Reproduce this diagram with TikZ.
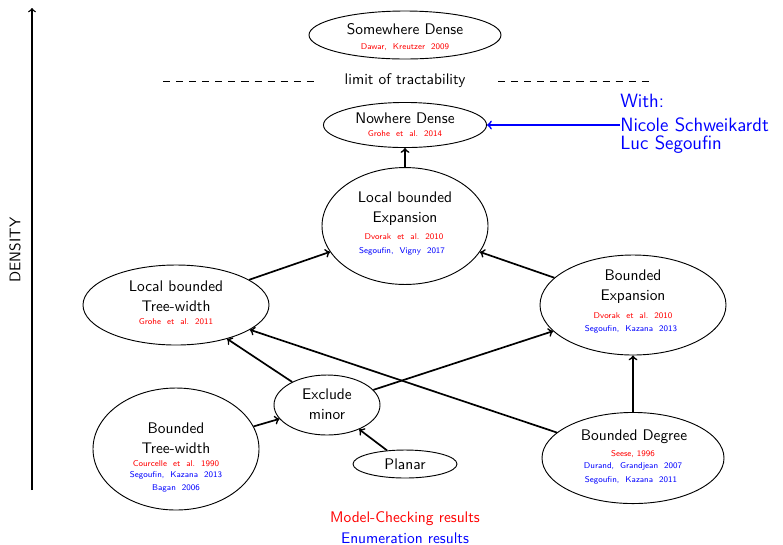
\documentclass[tikz,border=0pt]{standalone}
\usetikzlibrary{shapes.geometric}
\begin{document}
\begin{tikzpicture}[x=0.65pt,y=-0.65pt,
  font=\sffamily\fontsize{10}{13}\selectfont,
  blob/.style={ellipse,draw,line width=0.6pt,inner sep=0pt},
  title/.style={inner sep=0pt,align=center},
  mc/.style={inner sep=0pt,text=red,font=\sffamily\fontsize{5.5}{7}\selectfont},
  en/.style={inner sep=0pt,text=blue,font=\sffamily\fontsize{5.5}{7}\selectfont},
  link/.style={->,line width=1.1pt},
  big/.style={inner sep=0pt,text=blue,anchor=west,font=\sffamily\fontsize{12.5}{15}\selectfont}]
\useasboundingbox (0,0) rectangle (783,544);

% density axis
\coordinate (axlo) at (32,490);
\coordinate (axhi) at (32,8);
\draw[->,line width=0.9pt] (axlo) -- (axhi);
\node[rotate=90,inner sep=0pt] (density) at (15,250) {DENSITY};

% classes
\node[blob,minimum width=124.8pt,minimum height=31.2pt] (sd) at (405,35) {};
\node[blob,minimum width=106pt,minimum height=29.3pt] (nd) at (405,125) {};
\node[blob,minimum width=107.9pt,minimum height=76pt] (lbe) at (405,226) {};
\node[blob,minimum width=120.9pt,minimum height=52pt] (lbtw) at (176,305) {};
\node[blob,minimum width=120.9pt,minimum height=65pt] (be) at (633,305) {};
\node[blob,minimum width=107.9pt,minimum height=79.3pt] (btw) at (176,449) {};
\node[blob,minimum width=68.9pt,minimum height=39pt] (em) at (327,405) {};
\node[blob,minimum width=67.6pt,minimum height=18.2pt] (planar) at (405,464) {};
\node[blob,minimum width=118.3pt,minimum height=59.2pt] (bd) at (633,458) {};

% labels of the classes
\node[title] (sdt) at (405,29) {Somewhere Dense};
\node[mc] (sdc) at (405,47) {Dawar,\ \ Kreutzer\ \ 2009};

\node[title] (ndt) at (405,118) {Nowhere Dense};
\node[mc] (ndc) at (405,134) {Grohe\ \ et\ \ al.\ \ 2014};

\node[title] (lbet) at (405,209) {Local bounded\\Expansion};
\node[mc] (lbec) at (404,237) {Dvorak\ \ et\ \ al.\ \ 2010};
\node[en] (lbee) at (402,251) {Segoufin,\ \ Vigny\ \ 2017};

\node[title] (lbtwt) at (176,296) {Local bounded\\Tree-width};
\node[mc] (lbtwc) at (176,322) {Grohe\ \ et\ \ al.\ \ 2011};

\node[title] (bet) at (633,287) {Bounded\\Expansion};
\node[mc] (bec) at (633,316) {Dvorak\ \ et\ \ al.\ \ 2010};
\node[en] (bee) at (631,329) {Segoufin,\ \ Kazana\ \ 2013};

\node[title] (btwt) at (176,438) {Bounded\\Tree-width};
\node[mc] (btwc) at (176,464) {Courcelle\ \ et\ \ al.\ \ 1990};
\node[en] (btwe) at (176,475) {Segoufin,\ \ Kazana\ \ 2013};
\node[en] (btwb) at (176,488) {Bagan\ \ 2006};

\node[title] (emt) at (327,404) {Exclude\\minor};
\node[title] (plt) at (405,464) {Planar};

\node[title] (bdt) at (634,437) {Bounded Degree};
\node[mc] (bdc) at (633,454) {Seese,\ 1996};
\node[en] (bde) at (633,466) {Durand,\ \ Grandjean\ \ 2007};
\node[en] (bdf) at (631,480) {Segoufin,\ \ Kazana\ \ 2011};

% limit of tractability
\node[inner sep=0pt] (limit) at (405,81) {limit of tractability};
\coordinate (dla) at (163,81);
\coordinate (dlb) at (316,81);
\coordinate (dra) at (498,81);
\coordinate (drb) at (650,81);
\draw[line width=0.6pt,dash pattern=on 4.6pt off 3.9pt] (dla) -- (dlb);
\draw[line width=0.6pt,dash pattern=on 4.6pt off 3.9pt] (dra) -- (drb);

% inclusions
\draw[link] (lbe) -- (nd);
\draw[link] (lbtw) -- (lbe);
\draw[link] (be) -- (lbe);
\draw[link] (em) -- (lbtw);
\draw[link] (em) -- (be);
\draw[link] (bd) -- (lbtw);
\draw[link] (bd) -- (be);
\draw[link] (btw) -- (em);
\draw[link] (planar) -- (em);

% co-authors
\node[big] (with) at (620,101) {With:};
\node[big] (nicole) at (620,125) {Nicole Schweikardt};
\node[big] (luc) at (620,145) {Luc Segoufin};
\draw[->,blue,line width=1.1pt] (nicole.west) -- (nd.east);

% legend
\node[inner sep=0pt,text=red] (legmc) at (405,519) {Model-Checking results};
\node[inner sep=0pt,text=blue] (legen) at (405,538) {Enumeration results};
\end{tikzpicture}
\end{document}
